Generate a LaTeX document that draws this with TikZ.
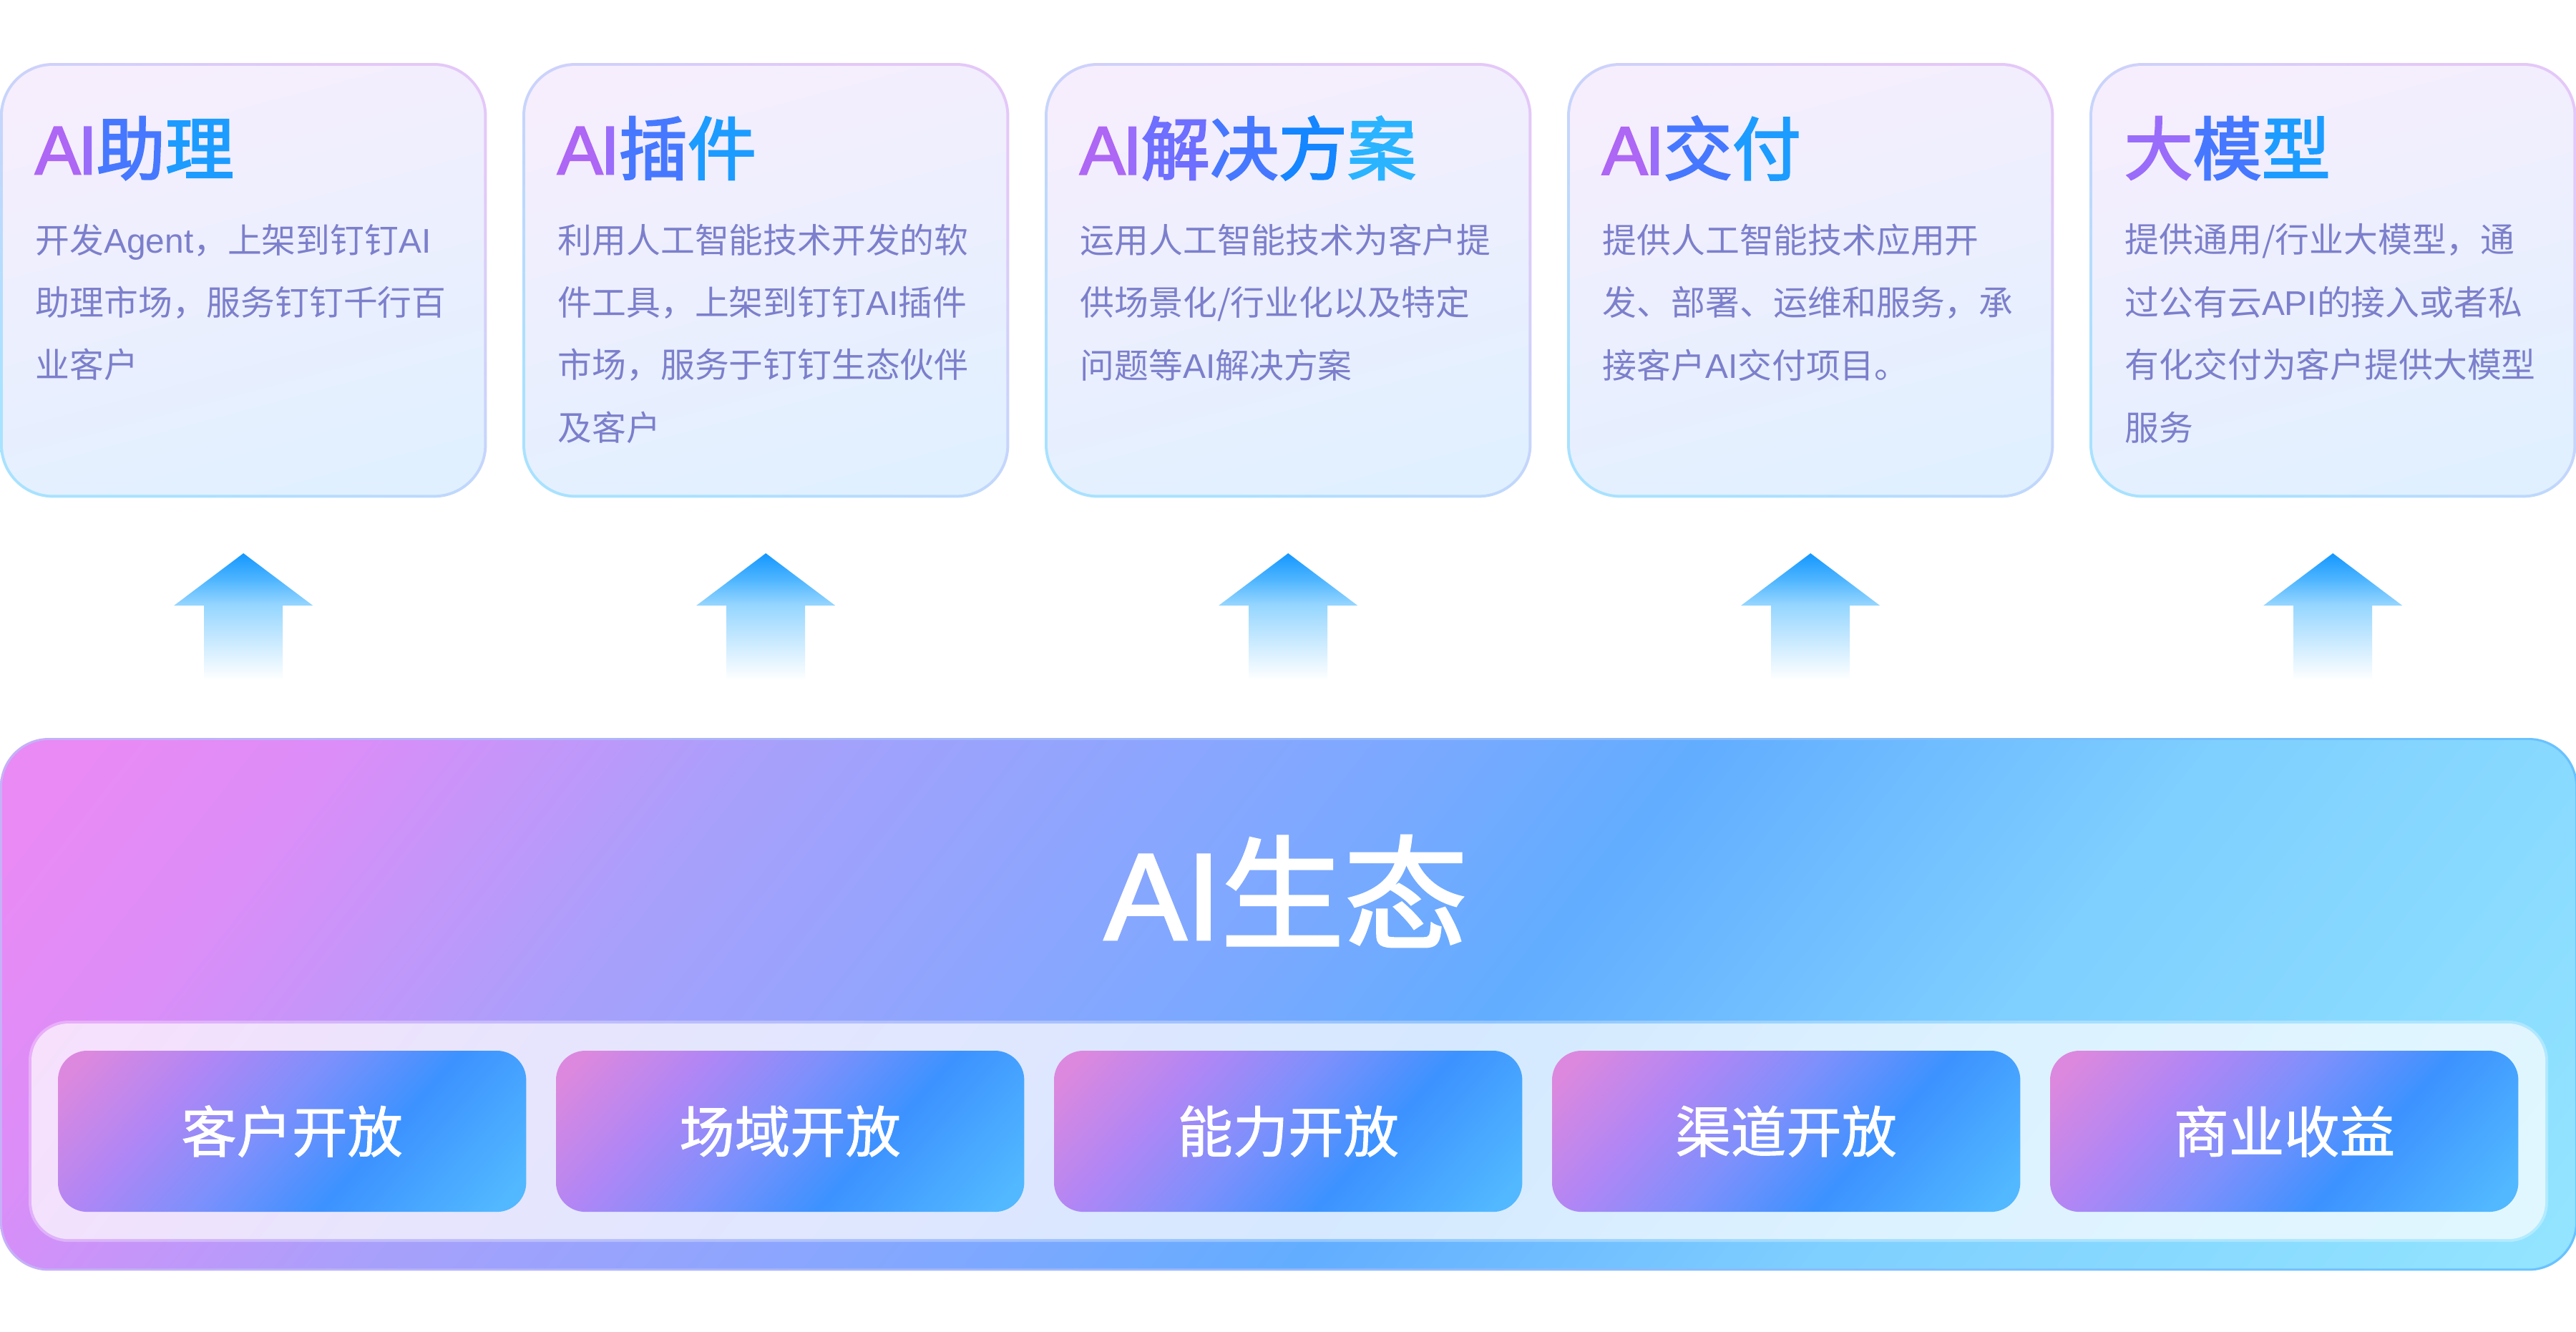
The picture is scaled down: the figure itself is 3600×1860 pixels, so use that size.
\documentclass[tikz,border=0pt]{standalone}
\usepackage{fontspec}
\usetikzlibrary{calc}
\setmainfont{Noto Sans CJK SC}
\newfontfamily\latinfont{Liberation Sans}
\newfontfamily\latinheavy{Liberation Sans}[FakeBold=2]
\newcommand{\ltn}[1]{{\latinfont #1}}
\definecolor{tA}{HTML}{AE66F5}
\definecolor{tB}{HTML}{9A6CFA}
\definecolor{tC}{HTML}{6E6EFF}
\definecolor{tD}{HTML}{4678FF}
\definecolor{tE}{HTML}{1486FF}
\definecolor{tF}{HTML}{1C9CFF}
\definecolor{tG}{HTML}{2AB4FF}
\definecolor{bodyText}{HTML}{7C7FCB}
\definecolor{aa}{HTML}{1497FF}
\definecolor{ab}{HTML}{4CB4FF}
\definecolor{ac}{HTML}{96D6FF}
\definecolor{pa}{HTML}{E98AF5}
\definecolor{pb}{HTML}{DC8DF8}
\definecolor{pc}{HTML}{A8A0FB}
\definecolor{pd}{HTML}{7FA8FF}
\definecolor{pe}{HTML}{62ADFF}
\definecolor{pf}{HTML}{7FCFFF}
\definecolor{pg}{HTML}{92E4FF}
\definecolor{la}{HTML}{DC88DE}
\definecolor{lb}{HTML}{B086F5}
\definecolor{lc}{HTML}{7C90FC}
\definecolor{ld}{HTML}{3C92FF}
\definecolor{le}{HTML}{52B8FF}
\definecolor{cardEdgeA}{HTML}{E4C8F8}
\definecolor{cardEdgeB}{HTML}{A8E2FF}
\definecolor{cardTop}{HTML}{F6EEFD}
\definecolor{cardBottom}{HTML}{E1F0FF}
\definecolor{edgeA}{HTML}{C6B0F8}
\definecolor{edgeB}{HTML}{68C2FF}
\pgfdeclarehorizontalshading{panelgrad}{100bp}{color(0bp)=(pa); color(17.3bp)=(pa); color(23bp)=(pb); color(33bp)=(pc); color(47bp)=(pd); color(55bp)=(pe); color(67bp)=(pf); color(84bp)=(pg); color(100bp)=(pg)}
\pgfdeclarehorizontalshading{pillgrad}{100bp}{color(0bp)=(la); color(18.5bp)=(la); color(33bp)=(lb); color(46.9bp)=(lc); color(61.3bp)=(ld); color(81.5bp)=(le); color(100bp)=(le)}
\pgfdeclareverticalshading{arrowgrad}{100bp}{color(0bp)=(white); color(25bp)=(white); color(54.5bp)=(ac); color(65bp)=(ab); color(75bp)=(aa); color(100bp)=(aa)}
\newcommand{\tc}[2]{\textcolor{#1}{#2}}
\newcommand{\titleAI}{\tc{tA}{{\latinheavy A}}\kern-1pt\tc{tB}{{\latinheavy I}}\kern-.3pt}
\tikzset{
	box/.style={rectangle, inner sep=0pt, outer sep=0pt, anchor=north west},
	cardedge/.style={box, rounded corners=0.74cm, minimum width=6.8cm, minimum height=6.07cm,
		left color=cardEdgeA, right color=cardEdgeB, shading angle=-35},
	card/.style={box, rounded corners=0.70cm, minimum width=6.72cm, minimum height=5.99cm,
		top color=cardTop, bottom color=cardBottom, shading angle=15},
	cardtitle/.style={inner sep=0pt, anchor=west, font=\fontsize{27.3}{30}\selectfont\addfontfeature{FakeBold=2.5}},
	cardbody/.style={inner sep=0pt, anchor=north west, align=left, text=bodyText, font=\fontsize{13.6}{24.85}\selectfont},
	panel/.style={box, rounded corners=0.66cm, shade, shading=panelgrad, shading angle=-38},
	stripedge/.style={box, rounded corners=0.56cm, minimum width=35.19cm, minimum height=3.09cm,
		fill=white, fill opacity=0.3},
	strip/.style={box, rounded corners=0.52cm, minimum width=35.11cm, minimum height=3.01cm,
		fill=white, fill opacity=0.62},
	pill/.style={box, rounded corners=0.41cm, minimum width=6.54cm, minimum height=2.25cm,
		shade, shading=pillgrad, shading angle=-42, text=white,
		font=\fontsize{22}{24}\selectfont\addfontfeature{FakeBold=1.2}},
	uparrow/.style={shading=arrowgrad}
}
\begin{document}
\begin{tikzpicture}[x=0.01cm,y=-0.01cm]
	\path[fill=white,use as bounding box] (0,0) rectangle (3600,1860);

	%The cards
	\foreach \i/\xpos/\head/\body in {
		1/0/{\titleAI\tc{tD}{助}\tc{tF}{理}}/{开发\ltn{Agent}，上架到钉钉\ltn{AI}\\助理市场，服务钉钉千行百\\业客户},
		2/730/{\titleAI\tc{tD}{插}\tc{tF}{件}}/{利用人工智能技术开发的软\\件工具，上架到钉钉\ltn{AI}插件\\市场，服务于钉钉生态伙伴\\及客户},
		3/1460/{\titleAI\tc{tC}{解}\tc{tD}{决}\tc{tE}{方}\tc{tG}{案}}/{运用人工智能技术为客户提\\供场景化/行业化以及特定\\问题等\ltn{AI}解决方案},
		4/2190/{\titleAI\tc{tD}{交}\tc{tF}{付}}/{提供人工智能技术应用开\\发、部署、运维和服务，承\\接客户\ltn{AI}交付项目。},
		5/2920/{\tc{tB}{大}\tc{tD}{模}\tc{tF}{型}}/{提供通用/行业大模型，通\\过公有云\ltn{API}的接入或者私\\有化交付为客户提供大模型\\服务}}
	{
		\node[cardedge] (edge\i) at (\xpos,88) {};
		\node[card] (card\i) at ($(\xpos,88)+(4,4)$) {};
		\node[cardtitle] (title\i) at ($(\xpos,88)+(48,119)$) {\head};
		\node[cardbody] (body\i) at ($(\xpos,88)+(49,224)$) {\body};
		%The arrow under the card
		\coordinate (up\i) at (edge\i.south |- 0,773);
		\shade[uparrow,shift={(up\i)}] (0,0) -- (97,73) -- (55,73) -- (55,177) -- (-55,177) -- (-55,73) -- (-97,73) -- cycle;
	}

	%The base panel
	\node[box, rounded corners=0.68cm, minimum width=36cm, minimum height=7.44cm,
		left color=edgeA, right color=edgeB] (baseedge) at (0,1031) {};
	\node[panel, minimum width=35.94cm, minimum height=7.38cm] (base) at (3,1034) {};
	\node[text=white, inner sep=0pt, font=\fontsize{49}{52}\selectfont\addfontfeature{FakeBold=2}] (basetitle) at (1797,1245) {{\latinheavy AI}生态};

	%The glass strip with its pills
	\node[stripedge] (stripring) at (40,1426) {};
	\node[strip] (strip) at (44,1430) {};
	\foreach \i/\xpos/\word in {1/81/客户开放,2/777/场域开放,3/1473/能力开放,4/2169/渠道开放,5/2865/商业收益}
		\node[pill] (pill\i) at (\xpos,1468) {\word};
\end{tikzpicture}
\end{document}
